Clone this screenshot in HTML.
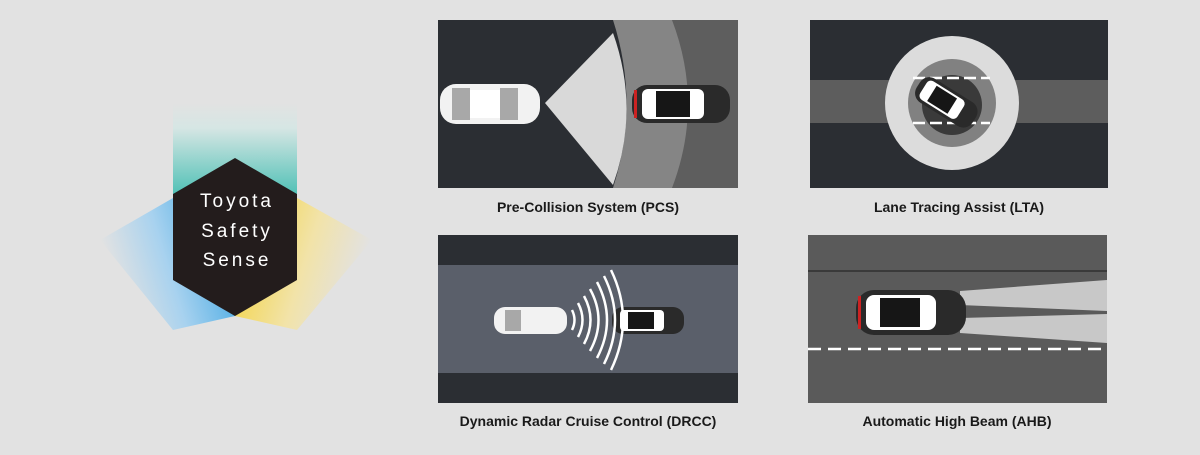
<!DOCTYPE html>
<html><head><style>
body{margin:0;width:1200px;height:450px;background:#e2e2e2;overflow:hidden;font-family:"Liberation Sans",sans-serif}
</style></head><body>
<svg width="1200" height="450" viewBox="0 0 1200 450" xmlns="http://www.w3.org/2000/svg">
<defs>
<linearGradient id="teal" x1="0" y1="0" x2="0" y2="1"><stop offset="0" stop-color="#e2e2e2"/><stop offset="0.25" stop-color="#d6e6e4"/><stop offset="1" stop-color="#3fbcb0"/></linearGradient>
<linearGradient id="blue" x1="1" y1="0" x2="0" y2="0.3"><stop offset="0" stop-color="#2a9ee0"/><stop offset="0.6" stop-color="#a8d2ef"/><stop offset="1" stop-color="#e2e2e2"/></linearGradient>
<linearGradient id="yel" x1="0" y1="0" x2="1" y2="0.3"><stop offset="0" stop-color="#f4d02a"/><stop offset="0.6" stop-color="#f2e3a8"/><stop offset="1" stop-color="#e2e2e2"/></linearGradient>
<clipPath id="c1"><rect x="438" y="20" width="300" height="168"/></clipPath>
<clipPath id="c2"><rect x="810" y="20" width="298" height="168"/></clipPath>
<clipPath id="c4"><rect x="808" y="235" width="299" height="168"/></clipPath>
</defs>
<!-- logo -->
<rect x="173" y="103" width="124" height="100" fill="url(#teal)"/>
<polygon points="173,198 100,240 173,330 235,316" fill="url(#blue)"/>
<polygon points="297,198 372,240 297,330 235,316" fill="url(#yel)"/>
<polygon points="235,158 297,194 297,280 235,316 173,280 173,194" fill="#231c1c"/>
<g fill="#fff" font-size="19" text-anchor="middle" letter-spacing="3">
<text x="237" y="207">Toyota</text><text x="237" y="237">Safety</text><text x="237" y="266">Sense</text></g>

<!-- PCS -->
<g clip-path="url(#c1)">
<rect x="438" y="20" width="300" height="168" fill="#2b2e33"/>
<path d="M613,20 Q640,104 613,188 L738,188 L738,20Z" fill="#858585"/>
<path d="M672,20 Q704,104 672,188 L738,188 L738,20Z" fill="#5e5e5e"/>
<path d="M545,103 L613,33 Q640,109 613,185Z" fill="#d9d9d9"/>
<rect x="440" y="84" width="100" height="40" rx="16" fill="#f2f2f2"/>
<rect x="452" y="88" width="18" height="32" fill="#a8a8a8"/><rect x="500" y="88" width="18" height="32" fill="#a8a8a8"/>
<rect x="470" y="90" width="30" height="28" fill="#fff"/>
<rect x="632" y="85" width="98" height="38" rx="15" fill="#2a2a2a"/>
<rect x="642" y="89" width="62" height="30" rx="6" fill="#fff"/>
<rect x="656" y="91" width="34" height="26" fill="#161616"/>
<rect x="634" y="90" width="3" height="28" fill="#c22"/>
</g>
<text x="588" y="212" font-size="14" font-weight="bold" fill="#1a1a1a" text-anchor="middle">Pre-Collision System (PCS)</text>

<!-- LTA -->
<g clip-path="url(#c2)">
<rect x="810" y="20" width="298" height="168" fill="#2b2e33"/>
<rect x="810" y="80" width="298" height="43" fill="#5d5d5d"/>
<circle cx="952" cy="103" r="67" fill="#dcdcdc"/>
<circle cx="952" cy="103" r="44" fill="#818181"/>
<circle cx="952" cy="105" r="30" fill="#3a3a3a"/>
<line x1="913" y1="78" x2="990" y2="78" stroke="#fff" stroke-width="2.5" stroke-dasharray="12,5"/>
<line x1="913" y1="123" x2="990" y2="123" stroke="#fff" stroke-width="2.5" stroke-dasharray="12,5"/>
<g transform="rotate(32 946 101)">
<rect x="914" y="88" width="66" height="28" rx="11" fill="#2a2a2a"/>
<rect x="920" y="91" width="44" height="22" rx="5" fill="#fff"/>
<rect x="930" y="93" width="24" height="18" fill="#161616"/>
</g>
</g>
<text x="959" y="212" font-size="14" font-weight="bold" fill="#1a1a1a" text-anchor="middle">Lane Tracing Assist (LTA)</text>

<!-- DRCC -->
<rect x="438" y="235" width="300" height="168" fill="#2b2e33"/>
<rect x="438" y="265" width="300" height="108" fill="#5a5f6a"/>
<rect x="494" y="307" width="73" height="27" rx="11" fill="#f2f2f2"/>
<rect x="505" y="310" width="16" height="21" fill="#a8a8a8"/>
<rect x="612" y="307" width="72" height="27" rx="11" fill="#2a2a2a"/>
<rect x="620" y="310" width="44" height="21" rx="4" fill="#fff"/>
<rect x="628" y="312" width="26" height="17" fill="#161616"/>
<g fill="none" stroke="#fff" stroke-width="2.5">
<path d="M572,310 Q577,320 572,330"/>
<path d="M578,303 Q587,320 578,337"/>
<path d="M584,296 Q597,320 584,344"/>
<path d="M590,289 Q607,320 590,351"/>
<path d="M597,282 Q617,320 597,358"/>
<path d="M604,276 Q626,320 604,364"/>
<path d="M611,270 Q635,320 611,370"/>
</g>
<text x="588" y="426" font-size="14" font-weight="bold" fill="#1a1a1a" text-anchor="middle">Dynamic Radar Cruise Control (DRCC)</text>

<!-- AHB -->
<g clip-path="url(#c4)">
<rect x="808" y="235" width="299" height="168" fill="#5a5a5a"/>
<rect x="808" y="270" width="299" height="2" fill="#3a3a3a"/>
<polygon points="960,291 1107,280 1107,311 960,305" fill="#c8c8c8"/>
<polygon points="960,318 1107,314 1107,343 960,333" fill="#c8c8c8"/>
<line x1="808" y1="349" x2="1107" y2="349" stroke="#fff" stroke-width="2.5" stroke-dasharray="13,7"/>
<rect x="856" y="290" width="110" height="45" rx="18" fill="#2a2a2a"/>
<rect x="866" y="295" width="70" height="35" rx="8" fill="#fff"/>
<rect x="880" y="298" width="40" height="29" fill="#161616"/>
<rect x="858" y="296" width="3" height="33" fill="#c22"/>
</g>
<text x="957" y="426" font-size="14" font-weight="bold" fill="#1a1a1a" text-anchor="middle">Automatic High Beam (AHB)</text>
</svg>
</body></html>
